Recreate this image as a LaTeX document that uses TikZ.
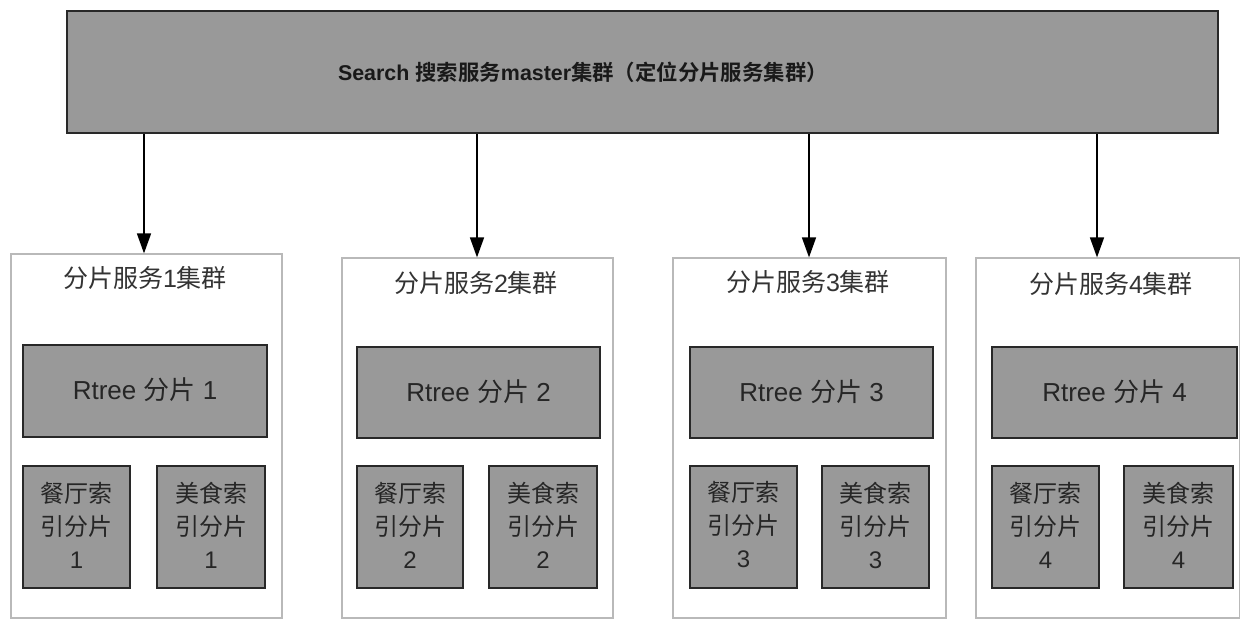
\documentclass[tikz,border=0pt]{standalone}
\usepackage{fontspec}
\setmainfont{Liberation Sans}
\newfontfamily\cjk{Noto Sans CJK SC}[BoldFont={Noto Sans CJK SC Bold}]
\usetikzlibrary{fit,arrows.meta}
\definecolor{boxgray}{RGB}{153,153,153}
\definecolor{edgedark}{RGB}{40,40,40}
\definecolor{clusteredge}{RGB}{185,185,185}
\tikzset{
  masterbox/.style={fill=boxgray,draw=edgedark,line width=1.4pt,inner sep=0pt},
  clusterbox/.style={fill=white,draw=clusteredge,line width=0.6pt,inner sep=0pt},
  grayboxstyle/.style={fill=boxgray,draw=edgedark,line width=1pt,inner sep=0pt},
  shardtext/.style={text=black!85,inner sep=0pt,yshift=0.5pt,
    font=\fontsize{13pt}{16pt}\selectfont},
  idxtext/.style={text=black!85,inner sep=0pt,align=center,yshift=1pt,
    font=\fontsize{12pt}{16.5pt}\selectfont},
  ctitle/.style={text=black!80,font=\fontsize{12.5pt}{15pt}\selectfont},
  mtitle/.style={text=black!90,font=\bfseries\fontsize{10.7pt}{14pt}\selectfont},
  link/.style={draw=black,line width=0.75pt,-{Triangle[length=10pt,width=7pt]}}
}
\begin{document}
\begin{tikzpicture}[x=0.5pt,y=-0.5pt]
\useasboundingbox (0,0) rectangle (1240,618);
% master
\node[masterbox,fit={(67,11) (1218,133)}] (master) {};
\node[mtitle] (mt) at (583,72) {Search {\cjk 搜索服务}master{\cjk 集群（定位分片服务集群）}};
% clusters
\node[clusterbox,fit={(11,254) (282,618)}] (c1) {};
\node[clusterbox,fit={(342,258) (613,618)}] (c2) {};
\node[clusterbox,fit={(673,258) (946,618)}] (c3) {};
\node[clusterbox,fit={(976,258) (1240,618)}] (c4) {};
\node[ctitle] (ct1) at (145,278) {{\cjk 分片服务}1{\cjk 集群}};
\node[ctitle] (ct2) at (476,283) {{\cjk 分片服务}2{\cjk 集群}};
\node[ctitle] (ct3) at (808,282) {{\cjk 分片服务}3{\cjk 集群}};
\node[ctitle] (ct4) at (1111,284) {{\cjk 分片服务}4{\cjk 集群}};
% rtree shards
\node[grayboxstyle,fit={(23,345) (267,437)}] (r1) {};
\node[grayboxstyle,fit={(357,347) (600,438)}] (r2) {};
\node[grayboxstyle,fit={(690,347) (933,438)}] (r3) {};
\node[grayboxstyle,fit={(992,347) (1237,438)}] (r4) {};
\node[shardtext] (rt1) at (r1.center) {Rtree {\cjk 分片} 1};
\node[shardtext] (rt2) at (r2.center) {Rtree {\cjk 分片} 2};
\node[shardtext] (rt3) at (r3.center) {Rtree {\cjk 分片} 3};
\node[shardtext] (rt4) at (r4.center) {Rtree {\cjk 分片} 4};
% index shards
\node[grayboxstyle,fit={(23,466) (130,588)}] (a1) {};
\node[grayboxstyle,fit={(157,466) (265,588)}] (b1) {};
\node[grayboxstyle,fit={(357,466) (463,588)}] (a2) {};
\node[grayboxstyle,fit={(489,466) (597,588)}] (b2) {};
\node[grayboxstyle,fit={(690,466) (797,588)}] (a3) {};
\node[grayboxstyle,fit={(822,466) (929,588)}] (b3) {};
\node[grayboxstyle,fit={(992,466) (1099,588)}] (a4) {};
\node[grayboxstyle,fit={(1124,466) (1233,588)}] (b4) {};
\node[idxtext] (at1) at (a1.center) {{\cjk 餐厅索}\\{\cjk 引分片}\\1};
\node[idxtext] (bt1) at (b1.center) {{\cjk 美食索}\\{\cjk 引分片}\\1};
\node[idxtext] (at2) at (a2.center) {{\cjk 餐厅索}\\{\cjk 引分片}\\2};
\node[idxtext] (bt2) at (b2.center) {{\cjk 美食索}\\{\cjk 引分片}\\2};
\node[idxtext] (at3) at (a3.center) {{\cjk 餐厅索}\\{\cjk 引分片}\\3};
\node[idxtext] (bt3) at (b3.center) {{\cjk 美食索}\\{\cjk 引分片}\\3};
\node[idxtext] (at4) at (a4.center) {{\cjk 餐厅索}\\{\cjk 引分片}\\4};
\node[idxtext] (bt4) at (b4.center) {{\cjk 美食索}\\{\cjk 引分片}\\4};
% connectors
\coordinate (x1) at (144,0);
\coordinate (x2) at (477,0);
\coordinate (x3) at (809,0);
\coordinate (x4) at (1097,0);
\draw[link] (master.south -| x1) -- (c1.north -| x1);
\draw[link] (master.south -| x2) -- (c2.north -| x2);
\draw[link] (master.south -| x3) -- (c3.north -| x3);
\draw[link] (master.south -| x4) -- (c4.north -| x4);
\end{tikzpicture}
\end{document}
